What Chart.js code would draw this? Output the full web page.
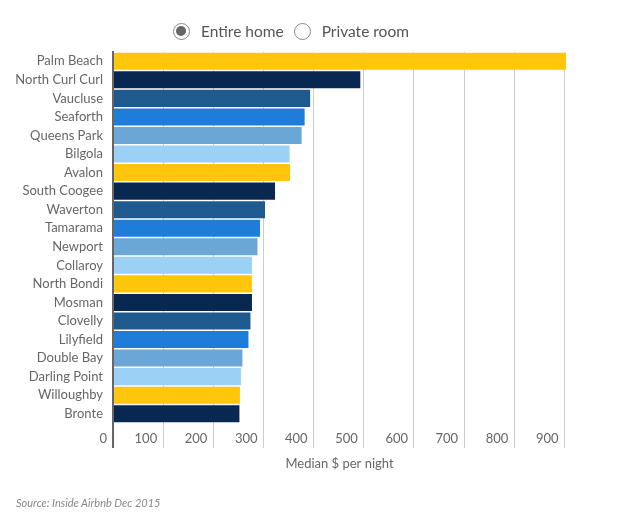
<!DOCTYPE html>
<html>
<head>
<meta charset="utf-8">
<script src="https://cdn.jsdelivr.net/npm/chart.js@4"></script>
<style>
  html, body { margin: 0; padding: 0; background: #fff; }
  #wrap { position: relative; width: 634px; height: 523px; font-family: Lato, "Open Sans", sans-serif; }
  #chartBox { position: absolute; left: 0; top: 0; width: 634px; height: 523px; }
  .legend { position: absolute; top: 22px; left: 173px; display: flex; align-items: center; color: #555; font-size: 15.5px; }
  .legend .item { display: flex; align-items: center; margin-right: 10px; }
  .legend .dot { width: 17px; height: 17px; border: 1.5px solid #888; border-radius: 50%; box-sizing: border-box; margin-right: 11px; position: relative; }
  .legend .dot.on::after { content: ""; position: absolute; left: 2px; top: 2px; width: 10px; height: 10px; border-radius: 50%; background: #666; }
  .source { position: absolute; left: 16px; top: 496px; font-size: 11px; font-style: italic; color: #888; }
</style>
</head>
<body>
<div id="wrap">
  <div id="chartBox"><canvas id="suburbChart"></canvas></div>
  <div class="legend">
    <div class="item"><span class="dot on"></span>Entire home</div>
    <div class="item"><span class="dot"></span>Private room</div>
  </div>
  <div class="source">Source: Inside Airbnb Dec 2015</div>
</div>
<script>
const suburbs = ['Palm Beach', 'North Curl Curl', 'Vaucluse', 'Seaforth', 'Queens Park', 'Bilgola', 'Avalon',
  'South Coogee', 'Waverton', 'Tamarama', 'Newport', 'Collaroy', 'North Bondi', 'Mosman', 'Clovelly',
  'Lilyfield', 'Double Bay', 'Darling Point', 'Willoughby', 'Bronte'];
const medianPrice = [903, 493, 393, 382, 376, 352, 353, 323, 303, 293, 288, 277, 277, 277, 274, 270, 258, 255, 253, 252];
const barColors = ['#FFC60B', '#082851', '#1E5A8E', '#1E7DD8', '#6BA7D6', '#9BD1F4'];
const xTicks = [0, 100, 200, 300, 400, 500, 600, 700, 800, 900];

const ctx = document.getElementById('suburbChart').getContext('2d');
new Chart(ctx, {
  type: 'bar',
  data: {
    labels: suburbs,
    datasets: [{
      label: 'Entire home',
      data: medianPrice,
      backgroundColor: suburbs.map((s, i) => barColors[i % barColors.length]),
      categoryPercentage: 1,
      barPercentage: 0.92,
    }],
  },
  options: {
    indexAxis: 'y',
    responsive: true,
    maintainAspectRatio: false,
    animation: false,
    layout: { padding: { top: 52, right: 68, left: 0, bottom: 0 } },
    plugins: {
      legend: { display: false },
      tooltip: { enabled: false },
    },
    scales: {
      x: {
        min: 0,
        max: Math.max(...medianPrice),
        afterBuildTicks: (scale) => {
          scale.ticks = xTicks.map(v => ({ value: v }));
        },
        afterFit: (scale) => { scale.height = 100; },
        border: { display: false },
        grid: {
          color: (c) => (c.tick && c.tick.value === 0 ? '#666' : '#ccc'),
          lineWidth: (c) => (c.tick && c.tick.value === 0 ? 2 : 1),
          tickLength: 25,
        },
        ticks: {
          align: 'end',
          labelOffset: -6,
          padding: -17,
          color: '#666',
          font: { family: 'Lato', size: 13 },
          maxRotation: 0,
        },
        title: {
          display: true,
          text: 'Median $ per night',
          color: '#666',
          font: { family: 'Lato', size: 13 },
          padding: { top: 0, bottom: 51 },
        },
      },
      y: {
        afterFit: (scale) => { scale.width = 113; },
        grid: { display: false, drawTicks: false },
        border: { display: true, color: '#666', width: 2 },
        ticks: {
          color: '#666',
          padding: 10,
          font: { family: 'Lato', size: 13 },
          autoSkip: false,
        },
      },
    },
  },
});
</script>
</body>
</html>
